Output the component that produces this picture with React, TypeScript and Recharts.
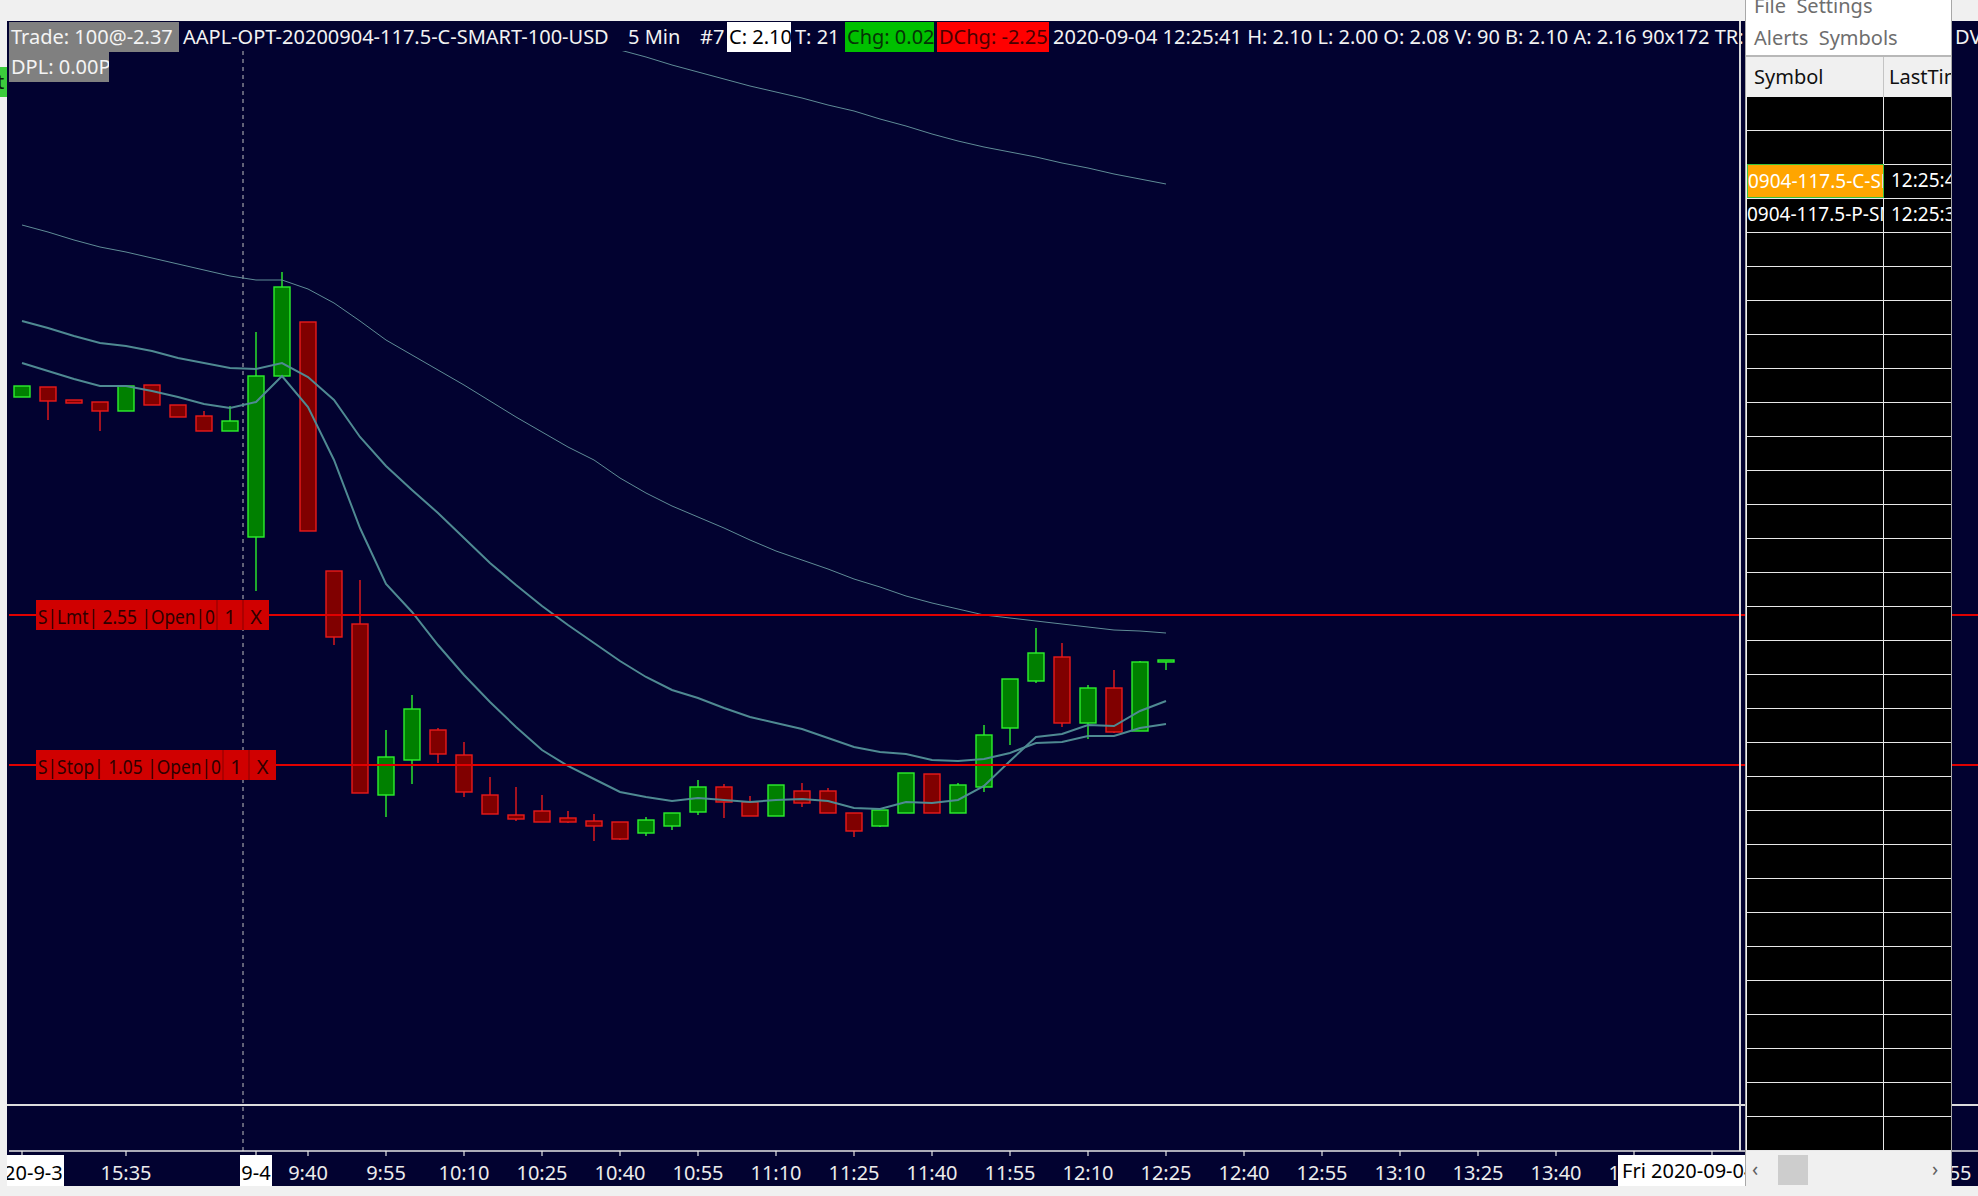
import React from 'react';
import { ComposedChart, Bar, Line, XAxis, YAxis, ReferenceLine } from 'recharts';

const FONT = '"Noto Sans", "Open Sans", sans-serif';
const NAVY = '#020230';

// ---- categories (5-minute slots) ----
const day1Times = ['15:15', '15:20', '15:25', '15:30', '15:35', '15:40', '15:45', '15:50', '15:55'];
function sessionSlots(h: number, m: number, count: number): string[] {
  const out: string[] = [];
  for (let i = 0; i < count; i++) {
    const t = h * 60 + m + i * 5;
    out.push(`${Math.floor(t / 60)}:${String(t % 60).padStart(2, '0')}`);
  }
  return out;
}
const day2Times = sessionSlots(9, 30, 67);
const times = [...day1Times, ...day2Times];

// ---- tick labels ----
const labelTimes = ['15:15', '15:35', '9:30', '9:40', '9:55', '10:10', '10:25', '10:40', '10:55', '11:10', '11:25', '11:40',
  '11:55', '12:10', '12:25', '12:40', '12:55', '13:10', '13:25', '13:40', '13:55', '14:10', '14:25', '14:40', '14:55'];
const dateLabelTimes = ['15:15', '9:30'];
const dateLabelTexts = ['2020-9-3', '9-4'];
const dateLabelWidths = [84, 32];

// ---- OHLC ----
const opens = [4.73, 4.83, 4.70, 4.68, 4.59, 4.85, 4.65, 4.54, 4.39,
  3.33, 4.94, 5.48, 2.99, 2.46, 0.75, 1.10, 1.40, 1.15, 0.75, 0.55, 0.59, 0.52, 0.49, 0.48, 0.37, 0.44, 0.58, 0.83, 0.68,
  0.54, 0.79, 0.79, 0.57, 0.44, 0.57, 0.96, 0.57, 0.83, 1.42, 1.89, 2.13, 1.47, 1.82, 1.39, 2.08];
const highs = [4.84, 4.83, 4.70, 4.68, 4.84, 4.85, 4.65, 4.59, 4.64,
  5.38, 5.98, 5.48, 2.99, 2.90, 1.40, 1.75, 1.42, 1.28, 0.93, 0.83, 0.75, 0.59, 0.56, 0.48, 0.53, 0.57, 0.90, 0.86, 0.74,
  0.85, 0.87, 0.82, 0.57, 0.60, 0.97, 0.96, 0.87, 1.45, 1.91, 2.42, 2.27, 1.85, 2.00, 2.09, 2.10];
const lows = [4.73, 4.50, 4.67, 4.39, 4.59, 4.65, 4.53, 4.39, 4.39,
  2.79, 4.94, 3.39, 2.25, 0.77, 0.53, 0.86, 1.07, 0.73, 0.56, 0.49, 0.48, 0.47, 0.29, 0.30, 0.34, 0.40, 0.55, 0.52, 0.54,
  0.54, 0.63, 0.57, 0.33, 0.43, 0.57, 0.57, 0.57, 0.78, 1.25, 1.87, 1.43, 1.31, 1.37, 1.39, 2.00];
const closes = [4.84, 4.69, 4.67, 4.59, 4.84, 4.65, 4.53, 4.39, 4.49,
  4.94, 5.83, 3.39, 2.33, 0.77, 1.13, 1.61, 1.16, 0.78, 0.56, 0.51, 0.48, 0.48, 0.44, 0.31, 0.50, 0.57, 0.83, 0.68, 0.54,
  0.85, 0.67, 0.57, 0.39, 0.60, 0.97, 0.57, 0.85, 1.35, 1.91, 2.17, 1.47, 1.82, 1.38, 2.08, 2.10];

// ---- moving averages ----
const maSlow = [6.45, 6.38, 6.30, 6.23, 6.18, 6.12, 6.06, 6.00, 5.94,
  5.90, 5.90, 5.81, 5.67, 5.49, 5.30, 5.15, 5.00, 4.85, 4.69, 4.53, 4.38, 4.23, 4.10, 3.92, 3.77, 3.64, 3.53, 3.42, 3.30,
  3.19, 3.10, 3.01, 2.91, 2.83, 2.74, 2.67, 2.61, 2.55, 2.52, 2.49, 2.46, 2.43, 2.40, 2.39, 2.37];
const maMid = [5.49, 5.42, 5.34, 5.27, 5.24, 5.19, 5.12, 5.07, 5.02,
  5.01, 5.07, 4.93, 4.70, 4.33, 4.04, 3.80, 3.57, 3.32, 3.07, 2.85, 2.64, 2.45, 2.27, 2.09, 1.93, 1.80, 1.72, 1.62, 1.53,
  1.47, 1.41, 1.32, 1.23, 1.18, 1.16, 1.10, 1.09, 1.11, 1.17, 1.27, 1.28, 1.34, 1.34, 1.42, 1.46];
const maFast = [5.07, 4.99, 4.91, 4.84, 4.84, 4.79, 4.73, 4.66, 4.62,
  4.68, 4.94, 4.63, 4.10, 3.42, 2.86, 2.58, 2.25, 1.95, 1.68, 1.43, 1.20, 1.04, 0.91, 0.78, 0.73, 0.69, 0.72, 0.70, 0.68,
  0.70, 0.71, 0.69, 0.62, 0.61, 0.68, 0.67, 0.70, 0.84, 1.09, 1.33, 1.36, 1.45, 1.44, 1.59, 1.69];
const maLong: (number | null)[] = [null, null, null, null, null, null, null, null, null,
  null, null, null, null, null, null, null, null, null, null, null, null, null, 8.27, 8.20, 8.13, 8.05, 7.98, 7.91, 7.84,
  7.78, 7.72, 7.65, 7.59, 7.51, 7.44, 7.36, 7.29, 7.23, 7.18, 7.13, 7.07, 7.02, 6.96, 6.91, 6.86];

// ---- orders ----
const orderKinds = ['Lmt', 'Stop'];
const orderPrices = [2.55, 1.05];
const orderCellWidths = [[181, 26, 26], [187, 26, 27]];

// ---- watchlist panel ----
const watchSymbols = ['', '', '0904-117.5-C-SMART', '0904-117.5-P-SMART'];
const watchTimes = ['', '', '12:25:41', '12:25:36'];

const rows = times.map((t, i) =>
  i < opens.length
    ? { t, range: [lows[i], highs[i]], o: opens[i], h: highs[i], l: lows[i], c: closes[i], a: maSlow[i], b: maMid[i], f: maFast[i], d: maLong[i] }
    : { t }
);

const Candle = (props: any) => {
  const { x, y, width, height, payload } = props;
  if (!payload || payload.o == null || x == null) return null;
  const top = Math.min(y, y + height);
  const bot = Math.max(y, y + height);
  const span = payload.h - payload.l;
  const py = (v: number) => top + ((payload.h - v) / span) * (bot - top);
  const up = payload.c >= payload.o;
  const yO = py(payload.o);
  const yC = py(payload.c);
  const bt = Math.min(yO, yC);
  const bb = Math.max(yO, yC);
  const cx = x + width / 2;
  const edge = up ? '#2df02d' : '#e81a1a';
  const fill = up ? '#008000' : '#800000';
  return (
    <g>
      <line x1={cx} x2={cx} y1={top} y2={bot} stroke={edge} strokeWidth={1.4} />
      <rect x={x} y={bt} width={width} height={Math.max(bb - bt, 2)} fill={fill} stroke={edge} strokeWidth={1.4} />
    </g>
  );
};

const TimeTick = (props: any) => {
  const { x, y, payload } = props;
  const v = payload?.value;
  if (!labelTimes.includes(v)) return <g />;
  const di = dateLabelTimes.indexOf(v);
  const isDate = di >= 0;
  return (
    <g>
      <line x1={x} x2={x} y1={y} y2={y + 5} stroke="#e6e6e6" strokeWidth={1.2} />
      {isDate && <rect x={x - dateLabelWidths[di] / 2} y={y + 4} width={dateLabelWidths[di]} height={31} fill="#ffffff" />}
      <text x={x} y={y + 21} textAnchor="middle" dominantBaseline="central" fill={isDate ? '#000000' : '#ececec'}
        fontSize={20} fontFamily={FONT}>{isDate ? dateLabelTexts[di] : v}</text>
    </g>
  );
};

const OrderTag = (props: any) => {
  const { viewBox, kind, price, cells } = props;
  if (!viewBox) return null;
  const x0 = viewBox.x + 27;
  const yc = viewBox.y;
  const [w1, w2, w3] = cells;
  const tc = '#2e0000';
  return (
    <g>
      <rect x={x0} y={yc - 15} width={w1 + w2 + w3} height={30} fill="#d00000" />
      <line x1={x0 + w1} x2={x0 + w1} y1={yc - 15} y2={yc + 15} stroke="#8a0000" strokeWidth={1} />
      <line x1={x0 + w1 + w2} x2={x0 + w1 + w2} y1={yc - 15} y2={yc + 15} stroke="#8a0000" strokeWidth={1} />
      <text x={x0 + 2} y={yc + 1} dominantBaseline="central" fontSize={20} fontFamily={FONT} fill={tc}
        textLength={w1 - 4} lengthAdjust="spacingAndGlyphs">{`S|${kind}| ${price.toFixed(2)} |Open|0`}</text>
      <text x={x0 + w1 + w2 / 2} y={yc + 1} textAnchor="middle" dominantBaseline="central" fontSize={20} fontFamily={FONT} fill={tc}>1</text>
      <text x={x0 + w1 + w2 + w3 / 2} y={yc + 1} textAnchor="middle" dominantBaseline="central" fontSize={20} fontFamily={FONT} fill={tc}>X</text>
    </g>
  );
};

const abs = (s: React.CSSProperties): React.CSSProperties => ({ position: 'absolute', ...s });

const HeaderBox = ({ left, top, width, bg, color, children }: any) => (
  <div style={abs({ left, top, width, height: 30, background: bg, color, fontSize: 20, lineHeight: '30px', whiteSpace: 'nowrap', paddingLeft: 2, boxSizing: 'border-box', overflow: 'hidden' })}>{children}</div>
);
const HeaderText = ({ left, top, children }: any) => (
  <div style={abs({ left, top, height: 30, color: '#f2f2f2', fontSize: 20, lineHeight: '30px', whiteSpace: 'nowrap' })}>{children}</div>
);

export default function App() {
  const rowH = 34;
  const gridRows = Array.from({ length: 31 }, (_, i) => i);
  return (
    <div style={abs({ left: 0, top: 0, width: 1978, height: 1196, overflow: 'hidden', background: '#f0f0f0', fontFamily: FONT })}>
      {/* chart background */}
      <div style={abs({ left: 7, top: 21, width: 1971, height: 1165, background: NAVY })} />
      {/* pane divider */}
      <div style={abs({ left: 7, top: 1104, width: 1971, height: 2, background: '#dcdcdc' })} />

      <div style={abs({ left: 0, top: 0 })}>
        <ComposedChart width={1990} height={1186} data={rows} margin={{ top: 51, right: 5, bottom: 0, left: 9 }}>
          <XAxis dataKey="t" type="category" interval={0} tickLine={false} tickSize={0} tickMargin={0} height={35}
            axisLine={{ stroke: '#e6e6e6', strokeWidth: 1.5 }} tick={<TimeTick />} />
          <YAxis hide type="number" domain={[-2.81, 8.19]} allowDataOverflow />
          <ReferenceLine x="9:30" position="start" stroke="#bfbfbf" strokeDasharray="4 4" strokeWidth={1} />
          <Bar dataKey="range" barSize={16} shape={<Candle />} isAnimationActive={false} />
          <Line dataKey="d" stroke="#5f8c96" strokeWidth={1} dot={false} isAnimationActive={false} />
          <Line dataKey="a" stroke="#5f8c96" strokeWidth={1} dot={false} isAnimationActive={false} />
          <Line dataKey="b" stroke="#4f8a92" strokeWidth={2} dot={false} isAnimationActive={false} />
          <Line dataKey="f" stroke="#4f8a92" strokeWidth={2} dot={false} isAnimationActive={false} />
          {orderPrices.map((p, i) => (
            <ReferenceLine key={i} y={p} stroke="#e00000" strokeWidth={2}
              label={<OrderTag kind={orderKinds[i]} price={p} cells={orderCellWidths[i]} />} />
          ))}
        </ComposedChart>
      </div>

      {/* left frame strip */}
      <div style={abs({ left: 0, top: 20, width: 7, height: 1166, background: '#f0f0f0' })} />

      {/* header row 1 */}
      <HeaderBox left={9} top={22} width={170} bg="#808080" color="#f4f4f4">Trade: 100@-2.37</HeaderBox>
      <HeaderText left={183} top={22}>AAPL-OPT-20200904-117.5-C-SMART-100-USD</HeaderText>
      <HeaderText left={628} top={22}>5 Min</HeaderText>
      <HeaderText left={700} top={22}>#7</HeaderText>
      <HeaderBox left={727} top={22} width={64} bg="#ffffff" color="#000000">C: 2.10</HeaderBox>
      <HeaderText left={795} top={22}>T: 21</HeaderText>
      <HeaderBox left={845} top={22} width={89} bg="#00c000" color="#063306">Chg: 0.02</HeaderBox>
      <HeaderBox left={937} top={22} width={112} bg="#ff0000" color="#4a0000">DChg: -2.25</HeaderBox>
      <HeaderText left={1053} top={22}>2020-09-04 12:25:41 H: 2.10 L: 2.00 O: 2.08 V: 90 B: 2.10 A: 2.16 90x172 TR:</HeaderText>
      <HeaderText left={1955} top={22}>DV:</HeaderText>
      {/* header row 2 */}
      <HeaderBox left={9} top={52} width={100} bg="#808080" color="#f4f4f4">DPL: 0.00P</HeaderBox>
      <div style={abs({ left: 0, top: 67, width: 7, height: 30, background: '#3ccc3c', overflow: 'hidden' })}>
        <div style={abs({ left: -3, top: 0, fontSize: 20, lineHeight: '30px', color: '#0a200a' })}>t</div>
      </div>

      {/* floating date label */}
      <div style={abs({ left: 1618, top: 1155, width: 140, height: 31, background: '#ffffff', color: '#000', fontSize: 20, lineHeight: '31px', paddingLeft: 4, boxSizing: 'border-box', whiteSpace: 'nowrap' })}>Fri 2020-09-04</div>

      {/* separator before panel */}
      <div style={abs({ left: 1739, top: 21, width: 2, height: 1130, background: '#d8d8d8' })} />

      {/* right panel */}
      <div style={abs({ left: 1745, top: 0, width: 207, height: 1186, background: '#f0f0f0', borderLeft: '1px solid #a8a8a8', borderRight: '1px solid #a8a8a8', boxSizing: 'border-box', overflow: 'hidden' })}>
        <div style={abs({ left: 0, top: 0, width: 207, height: 55, background: '#ffffff' })} />
        <div style={abs({ left: 8, top: -9, fontSize: 20, lineHeight: '30px', color: '#6e6e6e', whiteSpace: 'nowrap' })}>File&nbsp;&nbsp;Settings</div>
        <div style={abs({ left: 8, top: 23, fontSize: 20, lineHeight: '30px', color: '#6e6e6e', whiteSpace: 'nowrap' })}>Alerts&nbsp;&nbsp;Symbols</div>
        <div style={abs({ left: 0, top: 55, width: 207, height: 2, background: '#b8b8b8' })} />
        {/* column header */}
        <div style={abs({ left: 1, top: 57, width: 205, height: 40, background: '#f0f0f0' })} />
        <div style={abs({ left: 8, top: 57, fontSize: 20, lineHeight: '40px', color: '#111', whiteSpace: 'nowrap' })}>Symbol</div>
        <div style={abs({ left: 137, top: 57, width: 1, height: 40, background: '#c4c4c4' })} />
        <div style={abs({ left: 143, top: 57, fontSize: 20, lineHeight: '40px', color: '#111', whiteSpace: 'nowrap' })}>LastTime</div>
        {/* grid body */}
        <div style={abs({ left: 1, top: 97, width: 205, height: 1054, background: '#000000' })} />
        {gridRows.map((r) => (
          <div key={r} style={abs({ left: 1, top: 97 + r * rowH + rowH - 1, width: 205, height: 1, background: '#e8e8e8' })} />
        ))}
        <div style={abs({ left: 137, top: 97, width: 1, height: 1054, background: '#e8e8e8' })} />
        {watchSymbols.map((s, i) => s ? (
          <React.Fragment key={i}>
            <div style={abs({ left: 1, top: 97 + i * rowH - 1, width: 137, height: rowH, background: i === 2 ? '#ffa500' : 'transparent', border: i === 2 ? '1px solid #3cc03c' : 'none', boxSizing: 'border-box', overflow: 'hidden' })}>
              <div style={abs({ left: 0, top: 0, fontSize: 19, lineHeight: '32px', color: '#ffffff', whiteSpace: 'nowrap' })}>{s}</div>
            </div>
            <div style={abs({ left: 138, top: 97 + i * rowH - 1, width: 67, height: rowH - 1, overflow: 'hidden' })}>
              <div style={abs({ left: 7, top: 0, fontSize: 19, lineHeight: '33px', color: '#ffffff', whiteSpace: 'nowrap' })}>{watchTimes[i]}</div>
            </div>
          </React.Fragment>
        ) : null)}
        {/* scrollbar */}
        <div style={abs({ left: 1, top: 1151, width: 205, height: 35, background: '#f0f0f0' })} />
        <div style={abs({ left: 6, top: 1151, fontSize: 20, lineHeight: '35px', color: '#606060' })}>‹</div>
        <div style={abs({ left: 32, top: 1155, width: 30, height: 30, background: '#cdcdcd' })} />
        <div style={abs({ left: 186, top: 1151, fontSize: 20, lineHeight: '35px', color: '#606060' })}>›</div>
      </div>
    </div>
  );
}
